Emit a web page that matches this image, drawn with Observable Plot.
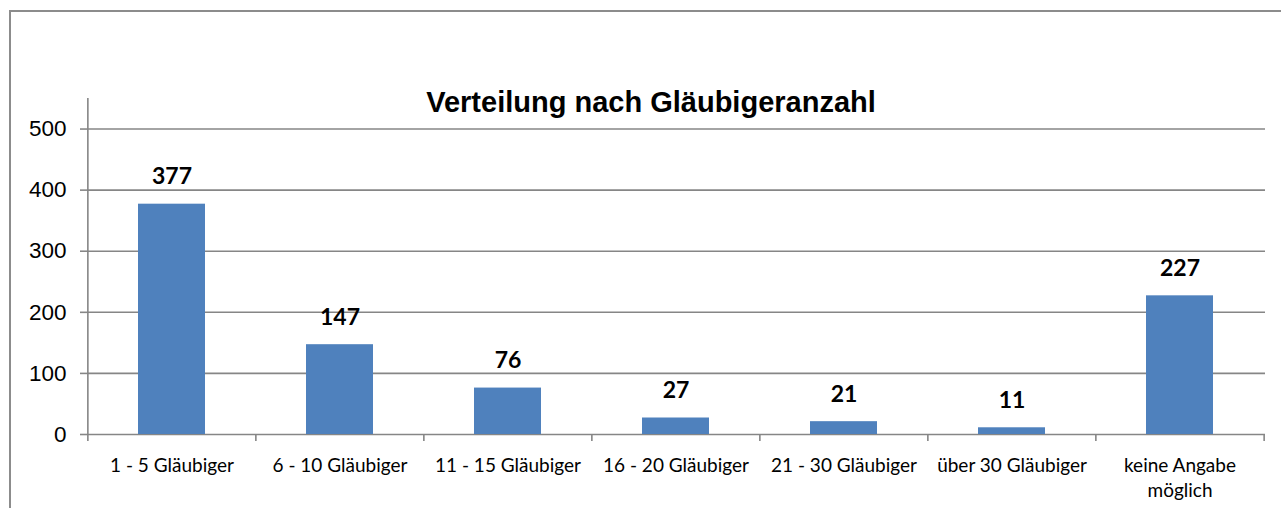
<!DOCTYPE html>
<html><head><meta charset="utf-8">
<script src="https://cdn.jsdelivr.net/npm/d3@7"></script>
<script src="https://cdn.jsdelivr.net/npm/@observablehq/plot@0.6"></script>
<style>
html,body{margin:0;padding:0;background:#fff;overflow:hidden;}
#wrap{position:relative;width:1281px;height:508px;overflow:hidden;}
#frame{position:absolute;left:9px;top:10px;width:1400px;height:600px;border:2px solid #8c8c8c;box-sizing:border-box;}
#title{position:absolute;left:0;width:1302px;top:88px;text-align:center;font:bold 29px "Liberation Sans",Arial,sans-serif;line-height:1;color:#000;}
#chart{position:absolute;left:0;top:0;}
</style></head><body>
<div id="wrap"><div id="frame"></div><div id="chart"></div><div id="title">Verteilung nach Gläubigeranzahl</div></div>
<script>
const categories = ["1 - 5 Gläubiger", "6 - 10 Gläubiger", "11 - 15 Gläubiger", "16 - 20 Gläubiger", "21 - 30 Gläubiger", "über 30 Gläubiger", "keine Angabe möglich"];
const tickLabels = ["1 - 5 Gläubiger", "6 - 10 Gläubiger", "11 - 15 Gläubiger", "16 - 20 Gläubiger", "21 - 30 Gläubiger", "über 30 Gläubiger", "keine Angabe\nmöglich"];
const values = [377, 147, 76, 27, 21, 11, 227];
const yTicks = [0, 100, 200, 300, 400, 500];
const yMax = 550;

const W = 1281, H = 508, mL = 87, mR = 16, mT = 98, mB = 74;
const step = (W - mL - mR) / categories.length;
const data = categories.map((c, i) => ({cat: c, value: values[i]}));
const gray = "#868686";
const last = categories[categories.length - 1];

const chart = Plot.plot({
  width: W, height: H,
  marginLeft: mL, marginRight: mR, marginTop: mT, marginBottom: mB,
  style: {background: "transparent", fontFamily: "Lato, sans-serif", color: "#000"},
  x: {domain: categories, paddingInner: 0.6, paddingOuter: 0.3},
  y: {domain: [0, yMax]},
  marks: [
    Plot.ruleY(yTicks, {stroke: gray, strokeWidth: 1.6}),
    Plot.barY(data, {x: "cat", y: "value", fill: "#4F81BD"}),
    Plot.ruleX(categories, {x: d => d, y1: 0, y2: 0, dx: -step / 2, insetBottom: -7, stroke: gray, strokeWidth: 1.6}),
    Plot.ruleX([last], {x: d => d, y1: 0, y2: 0, dx: step / 2, insetBottom: -7, stroke: gray, strokeWidth: 1.6}),
    Plot.ruleX([categories[0]], {x: d => d, dx: -step / 2, stroke: gray, strokeWidth: 1.6}),
    Plot.axisY({ticks: yTicks, tickSize: 7, tickPadding: 14, fontSize: 22.5, fontFamily: "Liberation Sans, Arial, sans-serif", stroke: gray, strokeWidth: 1.6, fill: "#000", label: null}),
    Plot.axisX({tickSize: 0, tickPadding: 20, tickFormat: d => tickLabels[categories.indexOf(d)], fontSize: 19, lineHeight: 1.3, fill: "#000", label: null}),
    Plot.text(data, {x: "cat", y: "value", text: d => String(d.value), dy: -20, lineAnchor: "bottom", fontWeight: "bold", fontSize: 23, fill: "#000"})
  ]
});
document.getElementById("chart").appendChild(chart);
</script>
</body></html>
